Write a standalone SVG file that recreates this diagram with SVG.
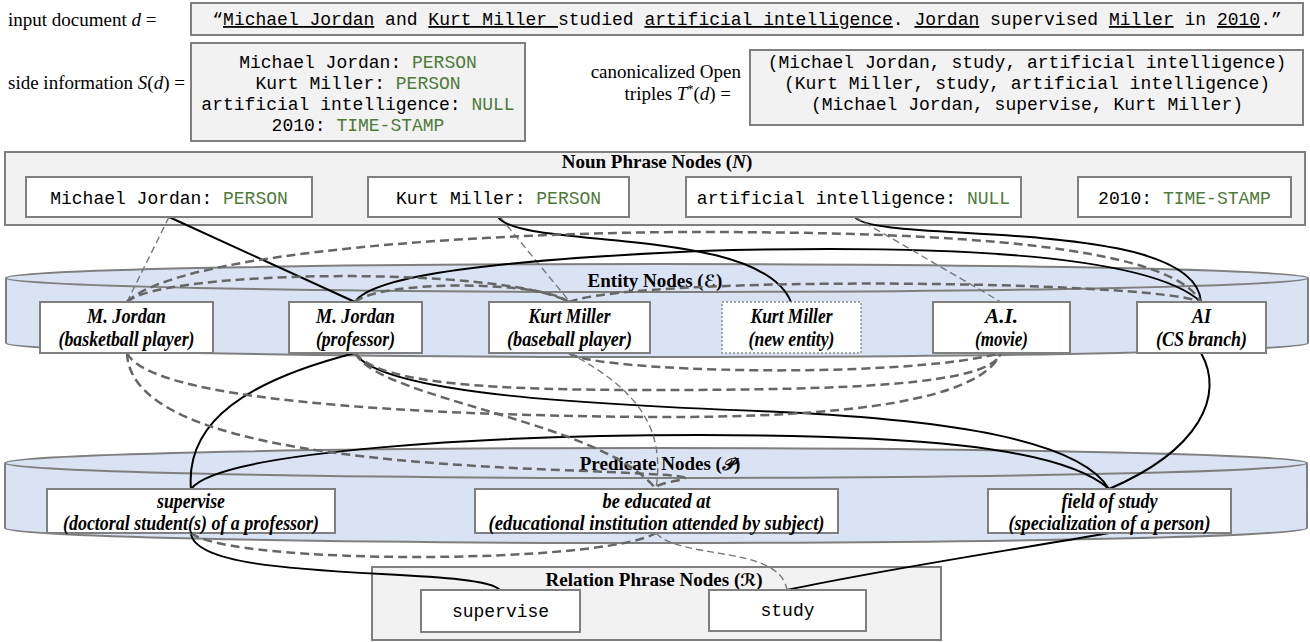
<svg xmlns="http://www.w3.org/2000/svg" width="1310" height="642" viewBox="0 0 1310 642">
<defs>
<style>
.lbl{font-family:"Liberation Serif","Times New Roman",serif;font-size:19px;fill:#000}
.mono{font-family:"Liberation Mono","Courier New",monospace;font-size:18px;fill:#000}
.g{fill:#4e7a3a}
.u{text-decoration:underline}
.gbox{fill:#f2f2f2;stroke:#7f7f7f;stroke-width:2}
.wbox{fill:#fff;stroke:#7f7f7f;stroke-width:2}
.dbox{fill:#fff;stroke:#8a8a8a;stroke-width:1.5;stroke-dasharray:2 2}
.cylf{fill:#dae3f3;stroke:none}
.cyls{fill:none;stroke:#7f7f7f;stroke-width:2}
.cyle{fill:#dae3f3;stroke:#7f7f7f;stroke-width:2}
.title{font-family:"Liberation Serif","Times New Roman",serif;font-size:19px;font-weight:bold;text-anchor:middle}
.sym{font-family:"DejaVu Serif","DejaVu Sans","Noto Sans",serif;font-style:italic;font-size:17px}
.ent{font-family:"Liberation Serif","Times New Roman",serif;font-size:20px;font-weight:bold;font-style:italic;text-anchor:middle}
.solid{fill:none;stroke:#000;stroke-width:2}
.dash{fill:none;stroke:#666;stroke-width:2.5;stroke-dasharray:9 5}
.thin{fill:none;stroke:#777;stroke-width:1.4;stroke-dasharray:7 4}
</style>
</defs>

<g id="input-document">
<text class="lbl" x="8" y="26" font-size="19.5">input document <tspan font-style="italic">d</tspan> =</text>
<rect class="gbox" x="191" y="3" width="1112" height="32"/>
<text class="mono" x="747" y="25" text-anchor="middle">“<tspan class="u">Michael Jordan</tspan> and <tspan class="u">Kurt Miller </tspan>studied <tspan class="u">artificial intelligence</tspan>. <tspan class="u">Jordan</tspan> supervised <tspan class="u">Miller</tspan> in <tspan class="u">2010</tspan>.”</text>
</g>

<g id="side-information">
<text class="lbl" x="8" y="89">side information <tspan font-style="italic">S</tspan>(<tspan font-style="italic">d</tspan>) =</text>
<rect class="gbox" x="191" y="43" width="334" height="98"/>
<text class="mono" x="358" y="68" text-anchor="middle">Michael Jordan: <tspan class="g">PERSON</tspan></text>
<text class="mono" x="358" y="89" text-anchor="middle">Kurt Miller: <tspan class="g">PERSON</tspan></text>
<text class="mono" x="358" y="110" text-anchor="middle">artificial intelligence: <tspan class="g">NULL</tspan></text>
<text class="mono" x="358" y="131" text-anchor="middle">2010: <tspan class="g">TIME-STAMP</tspan></text>
</g>

<g id="canonicalized-triples">
<text class="lbl" x="741" y="78" text-anchor="end" font-size="17.5">canonicalized Open</text>
<text class="lbl" x="731" y="100" text-anchor="end" font-size="17.5">triples <tspan font-style="italic">T</tspan><tspan font-size="12" dy="-7">*</tspan><tspan dy="7">(</tspan><tspan font-style="italic">d</tspan>) =</text>
<rect class="gbox" x="750" y="50" width="553" height="75"/>
<text class="mono" x="1027" y="68" text-anchor="middle">(Michael Jordan, study, artificial intelligence)</text>
<text class="mono" x="1027" y="89" text-anchor="middle">(Kurt Miller, study, artificial intelligence)</text>
<text class="mono" x="1027" y="110" text-anchor="middle">(Michael Jordan, supervise, Kurt Miller)</text>
</g>

<g id="noun-phrase-nodes">
<rect class="gbox" x="5" y="152" width="1300" height="73"/>
<text class="title" x="657" y="168">Noun Phrase Nodes (<tspan font-style="italic">N</tspan>)</text>
</g>

<g id="entity-nodes">
<path class="cylf" d="M6,278 L6,343 A651,14 0 0 0 1308,343 L1308,278 Z"/>
<path class="cyls" d="M6,278 L6,343 A651,14 0 0 0 1308,343 L1308,278"/>
<ellipse class="cyle" cx="657" cy="278" rx="651" ry="14"/>
<text class="title" x="655" y="287">Entity Nodes (<tspan class="sym">ℰ</tspan>)</text>
</g>

<g id="predicate-nodes">
<path class="cylf" d="M5,463 L5,528 A651,15 0 0 0 1307,528 L1307,463 Z"/>
<path class="cyls" d="M5,463 L5,528 A651,15 0 0 0 1307,528 L1307,463"/>
<ellipse class="cyle" cx="656" cy="463" rx="651" ry="15"/>
<text class="title" x="660" y="470">Predicate Nodes (<tspan class="sym">𝒫</tspan>)</text>
</g>

<g id="relation-phrase-nodes">
<rect class="gbox" x="372" y="567" width="569" height="73"/>
<text class="title" x="654" y="586">Relation Phrase Nodes (<tspan class="sym">ℛ</tspan>)</text>
</g>

<g id="connectors">
<path class="thin" d="M169,217 L127,302"/>
<path class="solid" d="M169,217 L355,302"/>
<path class="thin" d="M500,217 L570,302"/>
<path class="solid" d="M498,217 C520,250 760,225 791,302"/>
<path class="solid" d="M355,302 C372,275 500,260 700,251 C950,244 1150,255 1201,302"/>
<path class="solid" d="M855,217 C875,245 1195,215 1201,302"/>
<path class="thin" d="M855,217 L1001,302"/>
<path class="dash" d="M127,302 C180,250 500,232 700,232 C950,232 1170,245 1201,302"/>
<path class="dash" d="M127,302 C160,270 500,265 569,302"/>
<path class="dash" d="M355,302 C380,280 540,280 569,302"/>
<path class="dash" d="M569,302 C640,275 1150,280 1201,302"/>
<path class="solid" d="M355,353 C250,380 185,420 191,489"/>
<path class="solid" d="M355,353 C380,395 600,405 780,412 C950,420 1080,440 1109,489"/>
<path class="solid" d="M191,489 C220,450 500,435 700,435 C900,435 1060,445 1109,489"/>
<path class="solid" d="M1201,353 C1225,395 1200,450 1109,489"/>
<path class="dash" d="M127,353 C150,400 400,415 650,417 C850,418 980,400 1001,353"/>
<path class="dash" d="M355,353 C380,385 500,390 650,390 C850,390 990,385 1001,353"/>
<path class="dash" d="M569,353 C590,372 900,380 1001,353"/>
<path class="dash" d="M127,353 C130,440 350,462 560,470 S650,478 656,489"/>
<path class="dash" d="M355,353 C380,400 600,420 656,489"/>
<path class="thin" d="M569,353 C640,390 665,430 656,489"/>
<path class="solid" d="M191,533 C195,585 480,565 500,590"/>
<path class="dash" d="M191,533 C230,565 600,565 656,533"/>
<path class="thin" d="M656,533 C680,560 780,545 787,590"/>
<path class="solid" d="M1109,533 C1000,552 880,570 787,590"/>
</g>

<g id="np-michael-jordan"><rect class="wbox" x="26" y="177" width="286" height="40"/><text class="mono" x="169" y="204" text-anchor="middle">Michael Jordan: <tspan class="g">PERSON</tspan></text></g>
<g id="np-kurt-miller"><rect class="wbox" x="368" y="177" width="261" height="40"/><text class="mono" x="498.5" y="204" text-anchor="middle">Kurt Miller: <tspan class="g">PERSON</tspan></text></g>
<g id="np-artificial-intelligence"><rect class="wbox" x="686" y="177" width="335" height="40"/><text class="mono" x="853.5" y="204" text-anchor="middle">artificial intelligence: <tspan class="g">NULL</tspan></text></g>
<g id="np-2010"><rect class="wbox" x="1078" y="177" width="213" height="40"/><text class="mono" x="1184.5" y="204" text-anchor="middle">2010: <tspan class="g">TIME-STAMP</tspan></text></g>

<g id="ent-mjordan-basketball"><rect class="wbox" x="40" y="302" width="173" height="51"/><text class="ent" x="126.5" y="323" textLength="79" lengthAdjust="spacingAndGlyphs">M. Jordan</text><text class="ent" x="126.5" y="346" textLength="136" lengthAdjust="spacingAndGlyphs">(basketball player)</text></g>
<g id="ent-mjordan-professor"><rect class="wbox" x="289" y="302" width="133" height="51"/><text class="ent" x="355.5" y="323" textLength="79" lengthAdjust="spacingAndGlyphs">M. Jordan</text><text class="ent" x="355.5" y="346" textLength="79" lengthAdjust="spacingAndGlyphs">(professor)</text></g>
<g id="ent-kmiller-baseball"><rect class="wbox" x="489" y="302" width="161" height="51"/><text class="ent" x="569.5" y="323" textLength="82" lengthAdjust="spacingAndGlyphs">Kurt Miller</text><text class="ent" x="569.5" y="346" textLength="125" lengthAdjust="spacingAndGlyphs">(baseball player)</text></g>
<g id="ent-kmiller-new"><rect class="dbox" x="722" y="302" width="139" height="51"/><text class="ent" x="791.5" y="323" textLength="82" lengthAdjust="spacingAndGlyphs">Kurt Miller</text><text class="ent" x="791.5" y="346" textLength="86" lengthAdjust="spacingAndGlyphs">(new entity)</text></g>
<g id="ent-ai-movie"><rect class="wbox" x="933" y="302" width="137" height="51"/><text class="ent" x="1001.5" y="323" textLength="33" lengthAdjust="spacingAndGlyphs">A.I.</text><text class="ent" x="1001.5" y="346" textLength="53" lengthAdjust="spacingAndGlyphs">(movie)</text></g>
<g id="ent-ai-cs"><rect class="wbox" x="1137" y="302" width="129" height="51"/><text class="ent" x="1201.5" y="323" textLength="19" lengthAdjust="spacingAndGlyphs">AI</text><text class="ent" x="1201.5" y="346" textLength="91" lengthAdjust="spacingAndGlyphs">(CS branch)</text></g>

<g id="pred-supervise"><rect class="wbox" x="47" y="489" width="288" height="44"/><text class="ent" x="191" y="508" textLength="68" lengthAdjust="spacingAndGlyphs">supervise</text><text class="ent" x="191" y="530" textLength="256" lengthAdjust="spacingAndGlyphs">(doctoral student(s) of a professor)</text></g>
<g id="pred-educated"><rect class="wbox" x="475" y="489" width="363" height="44"/><text class="ent" x="656.5" y="508" textLength="108" lengthAdjust="spacingAndGlyphs">be educated at</text><text class="ent" x="656.5" y="530" textLength="336" lengthAdjust="spacingAndGlyphs">(educational institution attended by subject)</text></g>
<g id="pred-field-of-study"><rect class="wbox" x="988" y="489" width="243" height="44"/><text class="ent" x="1109.5" y="508" textLength="96" lengthAdjust="spacingAndGlyphs">field of study</text><text class="ent" x="1109.5" y="530" textLength="202" lengthAdjust="spacingAndGlyphs">(specialization of a person)</text></g>

<g id="rp-supervise"><rect class="wbox" x="421" y="590" width="159" height="42"/><text class="mono" x="500.5" y="617" text-anchor="middle">supervise</text></g>
<g id="rp-study"><rect class="wbox" x="709" y="590" width="157" height="41"/><text class="mono" x="787.5" y="616" text-anchor="middle">study</text></g>
</svg>
